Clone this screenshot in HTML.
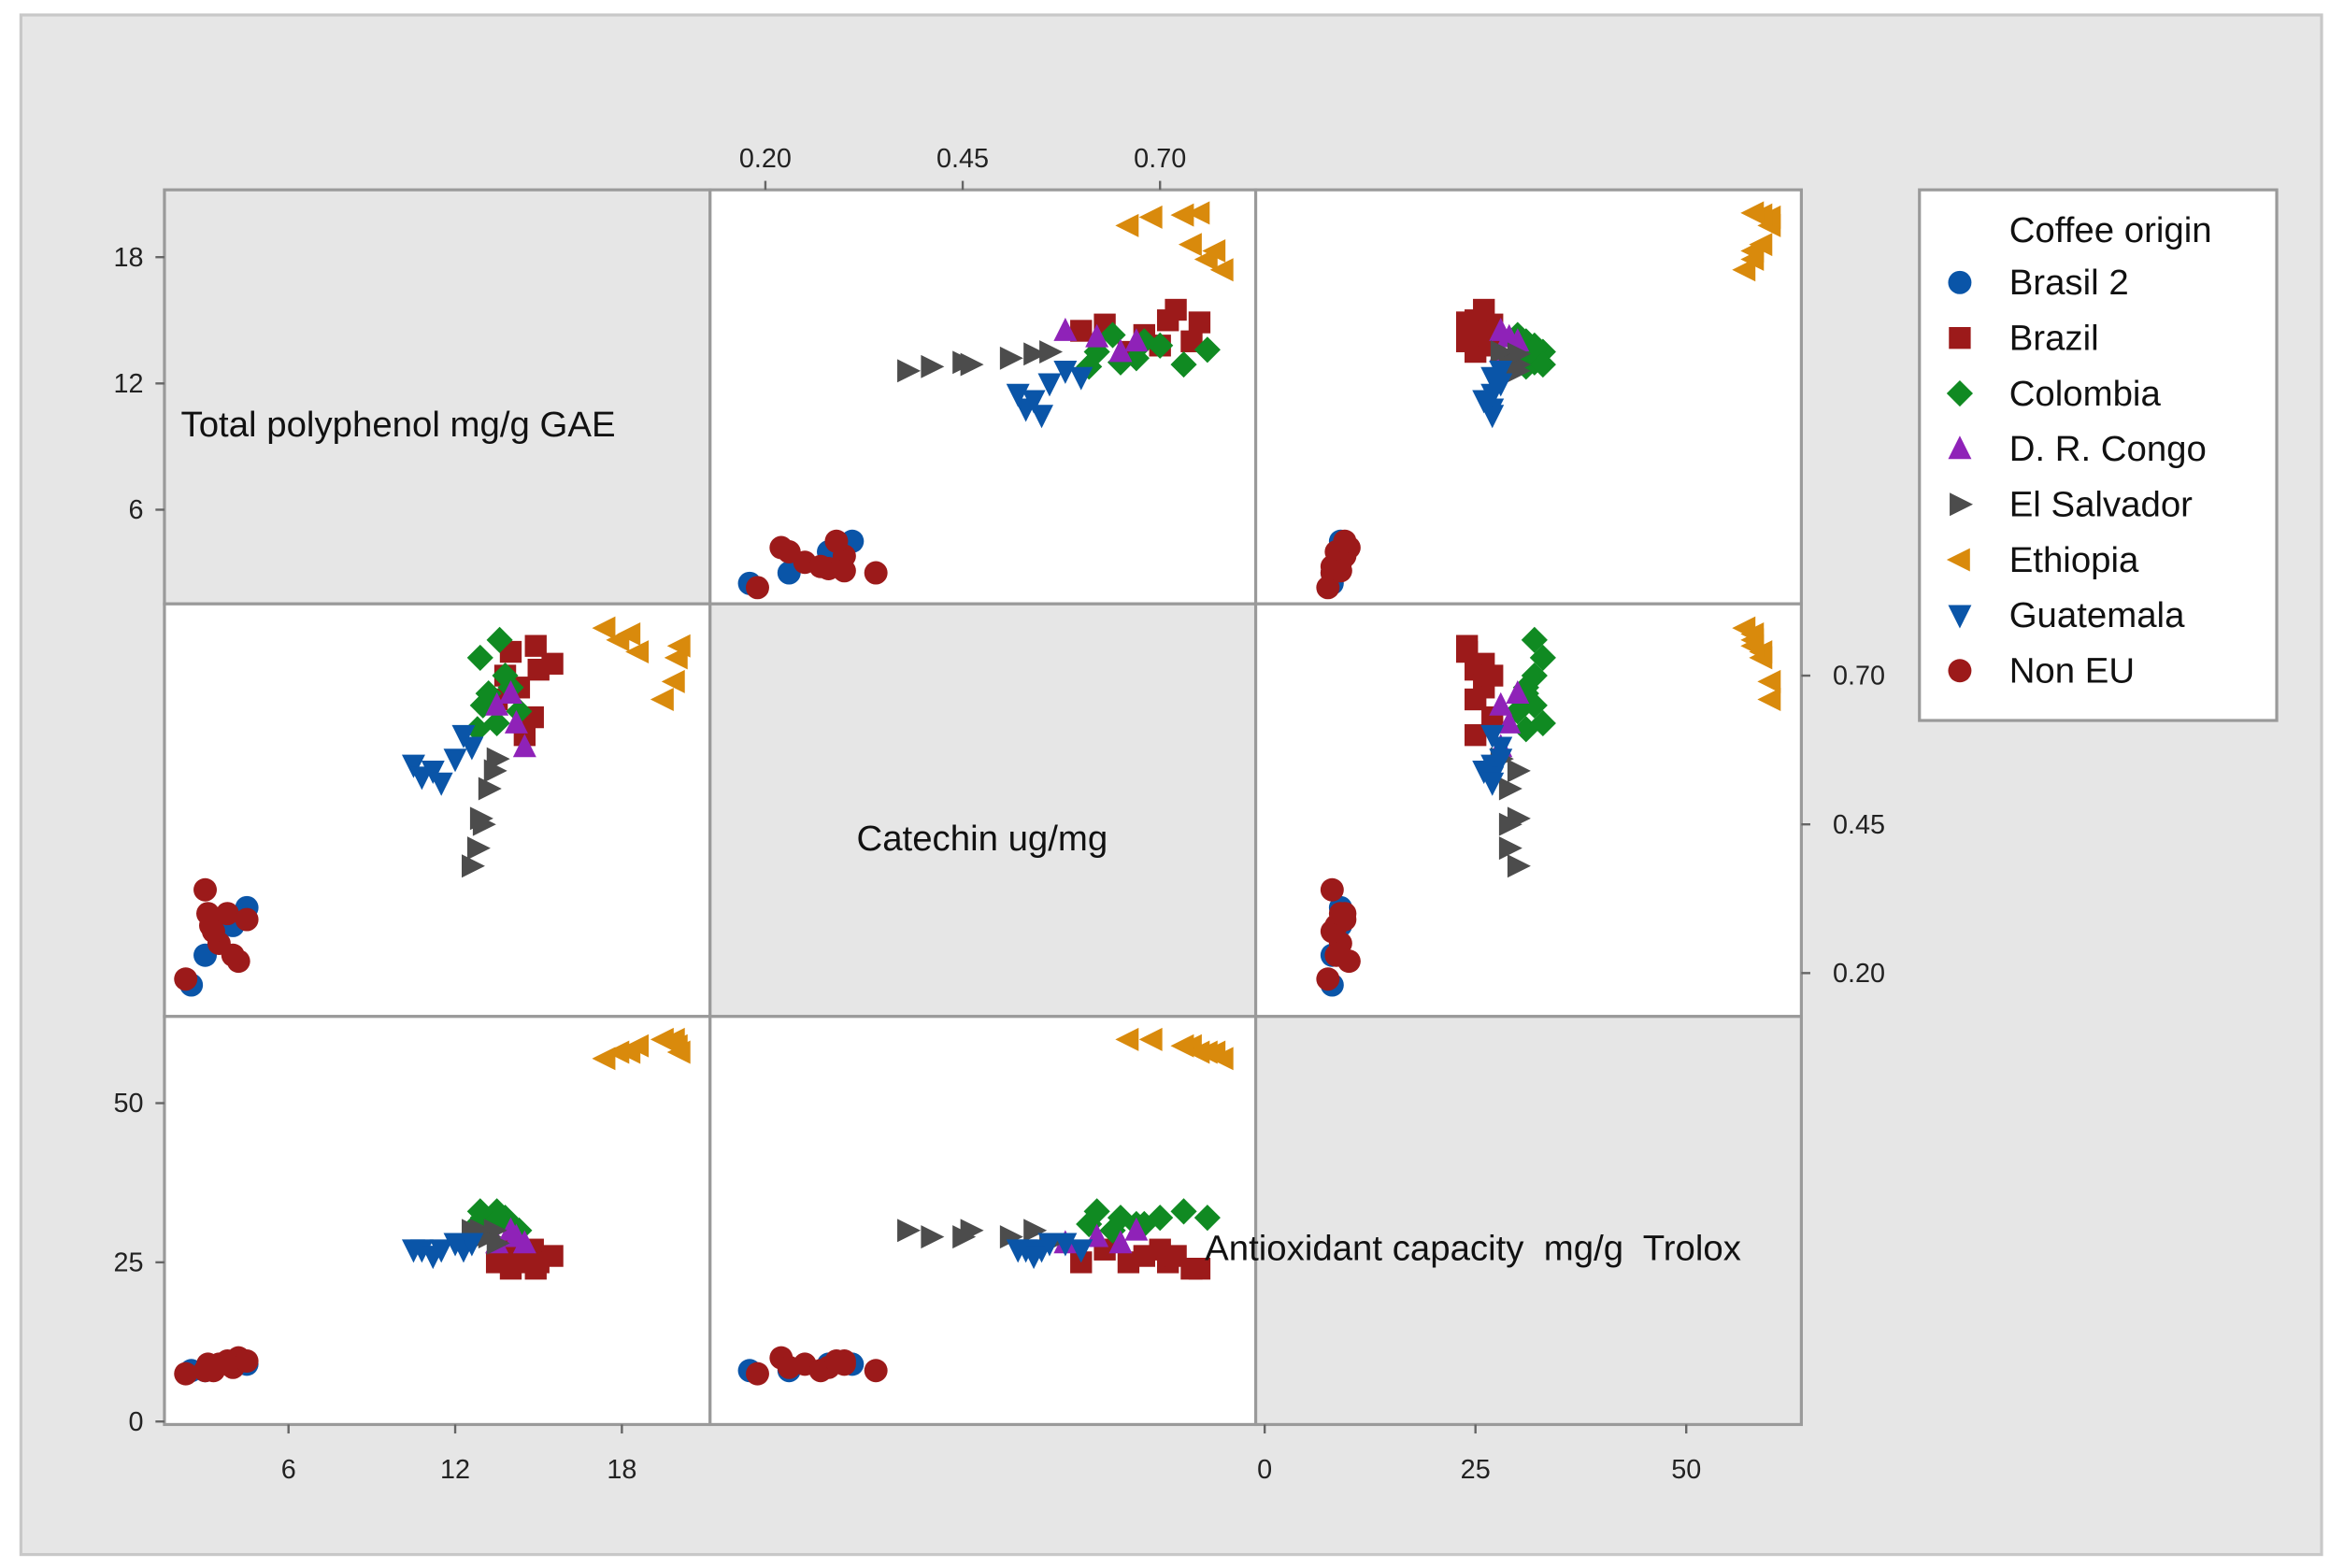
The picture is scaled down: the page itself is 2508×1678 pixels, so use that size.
<!DOCTYPE html>
<html><head><meta charset="utf-8"><style>
html,body{margin:0;padding:0;background:#fff;}
svg{display:block;font-family:"Liberation Sans",sans-serif;}
.pre{white-space:pre;}
</style></head><body>
<svg id="chart" width="2508" height="1678" viewBox="0 0 1568 1049" preserveAspectRatio="none" xmlns="http://www.w3.org/2000/svg">
<rect x="0" y="0" width="1568" height="1049" fill="#ffffff"/>
<rect x="14" y="10" width="1539" height="1030" fill="#e6e6e6" stroke="#c8c8c8" stroke-width="2"/>
<g id="cells"></g>
<g id="marks"></g>
<g id="axes" font-size="18" fill="#222"></g>
<g font-size="24" fill="#111">
<text x="121" y="292">Total polyphenol mg/g GAE</text>
<text x="657" y="569" text-anchor="middle">Catechin ug/mg</text>
<text class="pre" xml:space="preserve" x="806" y="843">Antioxidant capacity  mg/g  Trolox</text>
</g>
<g id="legend"></g>
</svg>
<script>
// Variables: 0 = Total polyphenol, 1 = Catechin, 2 = Antioxidant
const groups = ["Brasil 2","Brazil","Colombia","D. R. Congo","El Salvador","Ethiopia","Guatemala","Non EU"];
const brasil2TP = [2.5,3.0,4.5,4.0];
const brasil2C = [0.18,0.23,0.31,0.28];
const brasil2A = [8,8,9,9];
const brazilTP = [13.5,14.0,14.3,14.8,15.0,15.5,14.5,13.8,14.9];
const brazilC = [0.66,0.74,0.68,0.63,0.71,0.72,0.60,0.70,0.75];
const brazilA = [25,24,26,27,25,26,25,27,24];
const colombiaTP = [12.8,13.0,13.2,13.5,13.8,14.0,14.3,13.6,12.9];
const colombiaC = [0.61,0.65,0.67,0.62,0.70,0.68,0.64,0.76,0.73];
const colombiaA = [31,32,31,33,32,31,30,32,33];
const congoTP = [13.5,14.0,14.2,14.5];
const congoC = [0.65,0.67,0.62,0.58];
const congoA = [28,30,29,28];
const salvadorTP = [12.6,12.8,13.0,12.9,13.2,13.4,13.5];
const salvadorC = [0.38,0.41,0.45,0.46,0.51,0.54,0.56];
const salvadorA = [30,29,29,30,29,30,28];
const ethiopiaTP = [17.4,17.9,18.3,18.6,19.5,19.9,20.0,20.1];
const ethiopiaC = [0.78,0.76,0.77,0.74,0.66,0.69,0.73,0.75];
const ethiopiaA = [57,58,58,59,60,60,59,58];
const guatemalaTP = [10.5,10.8,11.2,11.5,12.0,12.3,12.6];
const guatemalaC = [0.55,0.53,0.54,0.52,0.56,0.60,0.58];
const guatemalaA = [27,27,26,27,28,27,28];
const noneuTP = [2.3,3.0,3.2,3.5,3.8,4.2,4.0,3.3,4.5,3.1];
const noneuC = [0.19,0.34,0.28,0.25,0.30,0.22,0.23,0.27,0.29,0.30];
const noneuA = [7.5,8,8.5,9,9.5,10,8.5,8,9.5,9];
const tpTicks = [6,12,18];
const cTicks = [0.20,0.45,0.70];
const aTicks = [0,25,50];

const series = [
 [brasil2TP,brasil2C,brasil2A],[brazilTP,brazilC,brazilA],[colombiaTP,colombiaC,colombiaA],
 [congoTP,congoC,congoA],[salvadorTP,salvadorC,salvadorA],[ethiopiaTP,ethiopiaC,ethiopiaA],
 [guatemalaTP,guatemalaC,guatemalaA],[noneuTP,noneuC,noneuA]];
const colors = ["#0a55a8","#9c1a1a","#108a22","#8f22b8","#4c4c4c","#d98a0c","#0a55a8","#9c1a1a"];
const shapes = ["circle","square","diamond","up","right","left","down","circle"];

const colX = [110,475,840,1205];
const rowY = [127,404,680,953];
function xScale(v, variable, col){
  if(variable===0) return 193 + col*365 + (v-6)*18.583;
  if(variable===1) return 512 + (col-1)*365 + (v-0.2)*528;
  return 846 + (col-2)*365 + v*5.64;
}
function yScale(v, variable, row){
  if(variable===0) return rowY[row] + 214 - (v-6)*14.08;
  if(variable===1) return rowY[row] + 247 - (v-0.2)*398;
  return rowY[row] + 271 - v*4.26;
}
const NS="http://www.w3.org/2000/svg";
function mk(tag, attrs, parent){const e=document.createElementNS(NS,tag);for(const k in attrs)e.setAttribute(k,attrs[k]);parent.appendChild(e);return e;}
function marker(shape,x,y,color,parent){
  const s=7.8;
  if(shape==="circle") return mk("circle",{cx:x,cy:y,r:s,fill:color},parent);
  if(shape==="square") return mk("rect",{x:x-s+0.5,y:y-s+0.5,width:2*s-1,height:2*s-1,fill:color},parent);
  let p;
  if(shape==="diamond") p=[[x,y-s-1],[x+s+1,y],[x,y+s+1],[x-s-1,y]];
  if(shape==="up") p=[[x,y-s-1],[x+s,y+s-1],[x-s,y+s-1]];
  if(shape==="down") p=[[x,y+s+1],[x+s,y-s+1],[x-s,y-s+1]];
  if(shape==="right") p=[[x+s+1,y],[x-s+1,y-s],[x-s+1,y+s]];
  if(shape==="left") p=[[x-s-1,y],[x+s-1,y-s],[x+s-1,y+s]];
  return mk("polygon",{points:p.map(q=>q.join(",")).join(" "),fill:color},parent);
}
const cells=document.getElementById("cells");
for(let r=0;r<3;r++)for(let c=0;c<3;c++){
  const e=mk("rect",{x:colX[c],y:rowY[r],width:colX[c+1]-colX[c],height:rowY[r+1]-rowY[r],fill:r===c?"#e6e6e6":"#ffffff",stroke:"#9a9a9a","stroke-width":2},cells);
  
  
}
const marks=document.getElementById("marks");
for(let r=0;r<3;r++)for(let c=0;c<3;c++){ if(r===c) continue;
  series.forEach((s,g)=>{
    for(let i=0;i<s[0].length;i++){
      const m=marker(shapes[g],xScale(s[c][i],c,c),yScale(s[r][i],r,r),colors[g],marks);
      
      
    }
  });
}
const axes=document.getElementById("axes");
function tickLabel(txt,x,y,anchor,name){
  const t=mk("text",{x:x,y:y,"text-anchor":anchor},axes);t.textContent=txt;
  
  
}
tpTicks.forEach(v=>{
  const y=yScale(v,0,0); mk("line",{x1:104,x2:110,y1:y,y2:y,stroke:"#666","stroke-width":1.5},axes);
  tickLabel(String(v),96,y+6,"end","y-tick-polyphenol");
  const x=xScale(v,0,0); mk("line",{x1:x,x2:x,y1:953,y2:959,stroke:"#666","stroke-width":1.5},axes);
  tickLabel(String(v),x,989,"middle","x-tick-polyphenol");
});
cTicks.forEach(v=>{
  const x=xScale(v,1,1); mk("line",{x1:x,x2:x,y1:121,y2:127,stroke:"#666","stroke-width":1.5},axes);
  tickLabel(v.toFixed(2),x,112,"middle","x-tick-catechin");
  const y=yScale(v,1,1); mk("line",{x1:1205,x2:1211,y1:y,y2:y,stroke:"#666","stroke-width":1.5},axes);
  tickLabel(v.toFixed(2),1226,y+6,"start","y-tick-catechin");
});
aTicks.forEach(v=>{
  const y=yScale(v,2,2); mk("line",{x1:104,x2:110,y1:y,y2:y,stroke:"#666","stroke-width":1.5},axes);
  tickLabel(String(v),96,y+6,"end","y-tick-antioxidant");
  const x=xScale(v,2,2); mk("line",{x1:x,x2:x,y1:953,y2:959,stroke:"#666","stroke-width":1.5},axes);
  tickLabel(String(v),x,989,"middle","x-tick-antioxidant");
});
const lg=document.getElementById("legend");


mk("rect",{x:1284,y:127,width:239,height:355,fill:"#fff",stroke:"#9a9a9a","stroke-width":2},lg);
const lt=mk("text",{x:1344,y:162,"font-size":24,fill:"#111"},lg);lt.textContent="Coffee origin";


groups.forEach((g,i)=>{
  const y=189+i*37.1;
  const m=marker(shapes[i],1311,y,colors[i],lg);
  
  
  const t=mk("text",{x:1344,y:y+8,"font-size":24,fill:"#111"},lg);t.textContent=g;
  
  
});
</script>
</body></html>
